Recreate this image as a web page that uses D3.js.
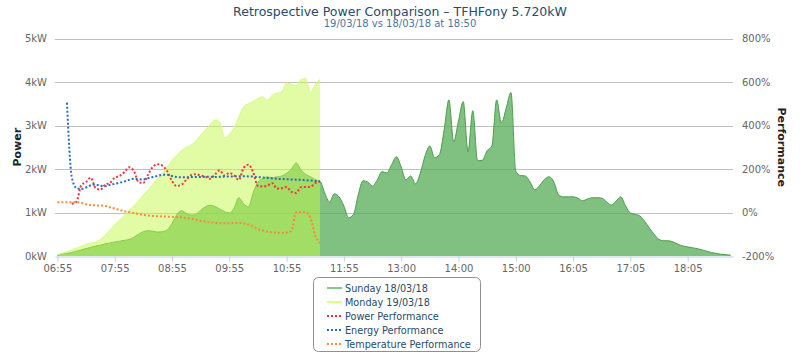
<!DOCTYPE html>
<html>
<head>
<meta charset="utf-8">
<script src="https://cdn.jsdelivr.net/npm/d3@7"></script>
<style>
  html, body { margin: 0; padding: 0; background: #fff; }
  svg { display: block; font-family: "DejaVu Sans", Verdana, sans-serif; }
</style>
</head>
<body>
<div id="chart"></div>
<script>
// ---- data ----
const titleText = "Retrospective Power Comparison \u2013 TFHFony 5.720kW";
const subtitleText = "19/03/18 vs 18/03/18 at 18:50";

const tickLabels = ["06:55", "07:55", "08:55", "09:55", "10:55", "11:55", "13:00", "14:00", "15:00", "16:05", "17:05", "18:05"];
const tickEvery = 12;
const categoryCount = 142;

const powerTicks = [0, 1, 2, 3, 4, 5];
const perfTicks = [-200, 0, 200, 400, 600, 800];

// kW, one value per 5 minute slot
const sunday = [
  0.02, 0.04, 0.06, 0.08, 0.11, 0.14, 0.17, 0.2, 0.23, 0.25,
  0.28, 0.3, 0.32, 0.34, 0.36, 0.38, 0.43, 0.5, 0.56, 0.58,
  0.57, 0.55, 0.56, 0.6, 0.75, 0.95, 1.04, 0.98, 0.94, 0.96,
  1.05, 1.13, 1.17, 1.14, 1.08, 1.02, 0.99, 1.1, 1.34, 1.2,
  1.13, 1.45, 1.7, 1.78, 1.82, 1.8, 1.82, 1.84, 1.9, 2.0,
  2.14, 1.98, 1.88, 1.82, 1.76, 1.72, 1.45, 1.24, 1.43, 1.36,
  1.15, 0.88, 0.95, 1.4, 1.73, 1.7, 1.61, 1.75, 1.94, 1.91,
  2.1, 2.28, 2.05, 1.75, 1.84, 1.66, 1.9, 2.3, 2.53, 2.26,
  2.33, 2.9, 3.59, 2.63, 3.1, 3.55, 2.4, 3.34, 2.19, 2.2,
  2.42, 2.53, 3.59, 3.06, 3.4, 3.76, 1.95, 1.85, 1.84, 1.7,
  1.52, 1.62, 1.76, 1.82, 1.7, 1.4, 1.36, 1.36, 1.36, 1.33,
  1.27, 1.31, 1.34, 1.34, 1.33, 1.25, 1.17, 1.26, 1.36, 1.15,
  0.99, 0.96, 0.92, 0.8, 0.64, 0.5, 0.38, 0.35, 0.35, 0.32,
  0.27, 0.23, 0.21, 0.19, 0.17, 0.14, 0.11, 0.08, 0.06, 0.04,
  0.03, 0.02
];

const monday = [
  0.03, 0.06, 0.1, 0.14, 0.18, 0.22, 0.27, 0.3, 0.32, 0.38,
  0.48, 0.6, 0.72, 0.82, 0.93, 1.05, 1.15, 1.27, 1.4, 1.52,
  1.65, 1.78, 1.9, 2.05, 2.2, 2.32, 2.42, 2.5, 2.55, 2.65,
  2.78, 2.9, 3.02, 3.13, 3.08, 2.72, 2.8, 2.95, 3.2, 3.43,
  3.5, 3.56, 3.62, 3.66, 3.58, 3.7, 3.74, 3.78, 3.98, 3.95,
  3.92, 4.05, 4.08, 3.76, 3.95, 4.06
];

// %, null where the series has no point
const powerPerf = [
  null, null, null, 40, 50, 125, 140, 160, 112, 105,
  128, 136, 160, 168, 185, 208, 192, 140, 136, 175,
  210, 222, 215, 190, 145, 122, 128, 150, 172, 176,
  170, 165, 155, 175, 194, 170, 182, 170, 150, 205,
  220, 186, 122, 120, 124, 135, 110, 112, 117, 95,
  90, 116, 117, 118, 135, 142
];

const energyPerf = [
  null, null, 505, 165, 112, 108, 115, 125, 128, 123,
  121, 127, 132, 137, 142, 150, 155, 153, 152, 158,
  163, 168, 173, 173, 168, 163, 162, 162, 163, 163,
  163, 164, 164, 163, 164, 165, 165, 166, 167, 167,
  166, 165, 163, 161, 159, 157, 155, 154, 153, 152,
  151, 150, 148, 147, 145, 144
];

const tempPerf = [
  47, 47, 47, 47, 47, 45, 38, 34, 33, 32,
  30, 24, 18, 12, 6, 2, -2, -7, -11, -14,
  -16, -17, -18, -19, -20, -21, -22, -26, -29, -33,
  -38, -42, -45, -47, -49, -49, -49, -48, -48, -50,
  -55, -64, -75, -83, -88, -91, -93, -94, -92, -85,
  0, 2, 1, -25, -105, -140
];

const seriesNames = ["Sunday 18/03/18", "Monday 19/03/18", "Power Performance", "Energy Performance", "Temperature Performance"];

// ---- layout ----
const width = 800, height = 354;
const plot = { left: 55, right: 733, top: 38.5, bottom: 256 };

const svg = d3.select("#chart").append("svg")
  .attr("width", width)
  .attr("height", height);

const x = d3.scaleLinear().domain([-0.5, categoryCount - 0.5]).range([plot.left, plot.right]);
const yPower = d3.scaleLinear().domain([0, 5]).range([plot.bottom, plot.top]);
const yPerf = d3.scaleLinear().domain([-200, 800]).range([plot.bottom, plot.top]);

// gridlines
svg.append("g")
  .selectAll("line")
  .data(powerTicks.slice(1))
  .join("line")
  .attr("x1", plot.left).attr("x2", plot.right)
  .attr("y1", d => Math.round(yPower(d)) + 0.5)
  .attr("y2", d => Math.round(yPower(d)) + 0.5)
  .attr("stroke", "#c0c0c0")
  .attr("stroke-width", 1);

// ---- series ----
const sundayColor = "#56ab56";
const mondayColor = "#c4f94a";

const areaFor = (vals, y) => d3.area()
  .defined(d => d != null)
  .x((d, i) => x(i))
  .y0(y(0))
  .y1(d => y(d))
  .curve(d3.curveMonotoneX)(vals);

const lineFor = (vals, y) => d3.line()
  .defined(d => d != null)
  .x((d, i) => x(i))
  .y(d => y(d))
  .curve(d3.curveMonotoneX)(vals);

svg.append("path")
  .attr("d", areaFor(sunday, yPower))
  .attr("fill", sundayColor)
  .attr("fill-opacity", 0.75);
svg.append("path")
  .attr("d", lineFor(sunday, yPower))
  .attr("fill", "none")
  .attr("stroke", "#4c9f4c")
  .attr("stroke-width", 1);

svg.append("path")
  .attr("d", areaFor(monday, yPower))
  .attr("fill", mondayColor)
  .attr("fill-opacity", 0.5);
svg.append("path")
  .attr("d", lineFor(monday, yPower))
  .attr("fill", "none")
  .attr("stroke", "#d8fb8a")
  .attr("stroke-width", 1);

const dotted = [
  { vals: powerPerf, color: "#f5333f" },
  { vals: energyPerf, color: "#2a6cc0" },
  { vals: tempPerf, color: "#fb8a3c" }
];
dotted.forEach(s => {
  svg.append("path")
    .attr("d", lineFor(s.vals, yPerf))
    .attr("fill", "none")
    .attr("stroke", s.color)
    .attr("stroke-width", 2)
    .attr("stroke-dasharray", "2,2");
});

// ---- axes ----
const xAxis = svg.append("g")
  .attr("transform", `translate(0,${plot.bottom + 0.5})`)
  .call(d3.axisBottom(x)
    .tickValues(tickLabels.map((d, i) => i * tickEvery))
    .tickFormat((d, i) => tickLabels[i])
    .tickSize(5)
    .tickPadding(3)
    .tickSizeOuter(0));
xAxis.select(".domain").attr("stroke", "#c0d0e0");
xAxis.selectAll(".tick line").attr("stroke", "#c0d0e0");
xAxis.selectAll("text").attr("fill", "#666").style("font-size", "10px")
  .style("font-family", "DejaVu Sans, sans-serif");

const leftAxis = svg.append("g")
  .attr("transform", `translate(${plot.left},0)`)
  .call(d3.axisLeft(yPower).tickValues(powerTicks).tickFormat(d => d + "kW").tickSize(0).tickPadding(8));
leftAxis.select(".domain").remove();
leftAxis.selectAll("text").attr("fill", "#666").style("font-size", "10px")
  .style("font-family", "DejaVu Sans, sans-serif");

const rightAxis = svg.append("g")
  .attr("transform", `translate(${plot.right},0)`)
  .call(d3.axisRight(yPerf).tickValues(perfTicks).tickFormat(d => d + "%").tickSize(0).tickPadding(9));
rightAxis.select(".domain").remove();
rightAxis.selectAll("text").attr("fill", "#666").style("font-size", "10px")
  .style("font-family", "DejaVu Sans, sans-serif");

// axis titles
svg.append("text")
  .attr("transform", `translate(21,${(plot.top + plot.bottom) / 2}) rotate(-90)`)
  .attr("text-anchor", "middle")
  .style("font-size", "11px")
  .style("font-weight", "bold")
  .attr("fill", "#222")
  .text("Power");

svg.append("text")
  .attr("transform", `translate(778,${(plot.top + plot.bottom) / 2}) rotate(90)`)
  .attr("text-anchor", "middle")
  .style("font-size", "11px")
  .style("font-weight", "bold")
  .attr("fill", "#222")
  .text("Performance");

// titles
svg.append("text")
  .attr("x", 400).attr("y", 16)
  .attr("text-anchor", "middle")
  .style("font-size", "12.5px")
  .attr("fill", "#274b6d")
  .text(titleText);

svg.append("text")
  .attr("x", 400).attr("y", 27)
  .attr("text-anchor", "middle")
  .style("font-size", "10px")
  .attr("fill", "#4d759e")
  .text(subtitleText);

// ---- legend ----
const legendColors = ["#5cb85c", "#ccff66", "#f5333f", "#2a6cc0", "#fb8a3c"];
const legend = svg.append("g");
legend.append("rect")
  .attr("x", 313.5).attr("y", 277.5)
  .attr("width", 167).attr("height", 74)
  .attr("rx", 5)
  .attr("fill", "#fff")
  .attr("stroke", "#909090");

seriesNames.forEach((name, i) => {
  const yy = 288 + i * 14;
  legend.append("line")
    .attr("x1", 327).attr("x2", 342)
    .attr("y1", yy).attr("y2", yy)
    .attr("stroke", legendColors[i])
    .attr("stroke-width", i < 2 ? 1.5 : 2)
    .attr("stroke-dasharray", i < 2 ? null : "2,2");
  legend.append("text")
    .attr("x", 345).attr("y", yy + 4)
    .style("font-size", "9.7px")
    .attr("fill", "#274b6d")
    .text(name);
});
</script>
</body>
</html>
